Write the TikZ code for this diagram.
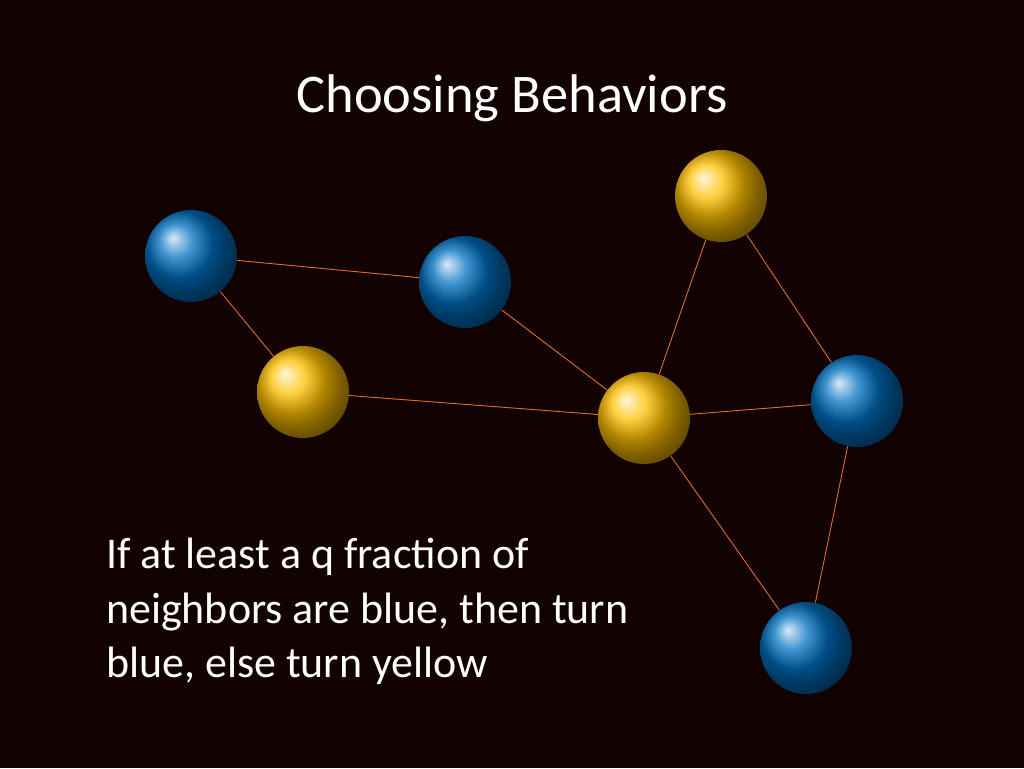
\documentclass[tikz,border=0pt]{standalone}
\usepackage{fontspec}
\setmainfont{Carlito}
\definecolor{bg}{RGB}{18,2,2}
\definecolor{ballblue}{RGB}{0,112,192}
\definecolor{ballyellow}{RGB}{255,192,0}
\definecolor{edgeorange}{RGB}{230,110,40}
\begin{document}
\begin{tikzpicture}[x=0.02cm,y=-0.02cm]
        \tikzset{blue/.style={circle,minimum size=1.84cm,inner sep=0pt,shading=ball,ball color=ballblue},
                 yellow/.style={circle,minimum size=1.84cm,inner sep=0pt,shading=ball,ball color=ballyellow},
                 link/.style={edgeorange,line width=0.5pt}};

        % background
        \fill[bg] (0,0) rectangle (1024,768);

        % title
        \node[white,font=\fontsize{31}{37}\selectfont] (title) at (512,98) {Choosing Behaviors};

        % nodes
        \node[blue] (b1) at (191,256) {};
        \node[blue] (b2) at (465,282) {};
        \node[yellow] (y1) at (303,392) {};
        \node[yellow] (y2) at (644,418) {};
        \node[yellow] (y3) at (721,196) {};
        \node[blue] (b3) at (857,401) {};
        \node[blue] (b4) at (806,648) {};

        % edges
        \begin{scope}[on background layer/.style={}]
        \draw[link] (b1) -- (b2);
        \draw[link] (b1) -- (y1);
        \draw[link] (b2) -- (y2);
        \draw[link] (y1) -- (y2);
        \draw[link] (y2) -- (y3);
        \draw[link] (y3) -- (b3);
        \draw[link] (y2) -- (b3);
        \draw[link] (y2) -- (b4);
        \draw[link] (b3) -- (b4);
        \end{scope}

        % rule
        \node[white,anchor=north west,align=left,font=\fontsize{25}{31}\selectfont] (rule) at (100,532)
            {If at least a q fraction of\\neighbors are blue, then turn\\blue, else turn yellow};
\end{tikzpicture}
\end{document}
